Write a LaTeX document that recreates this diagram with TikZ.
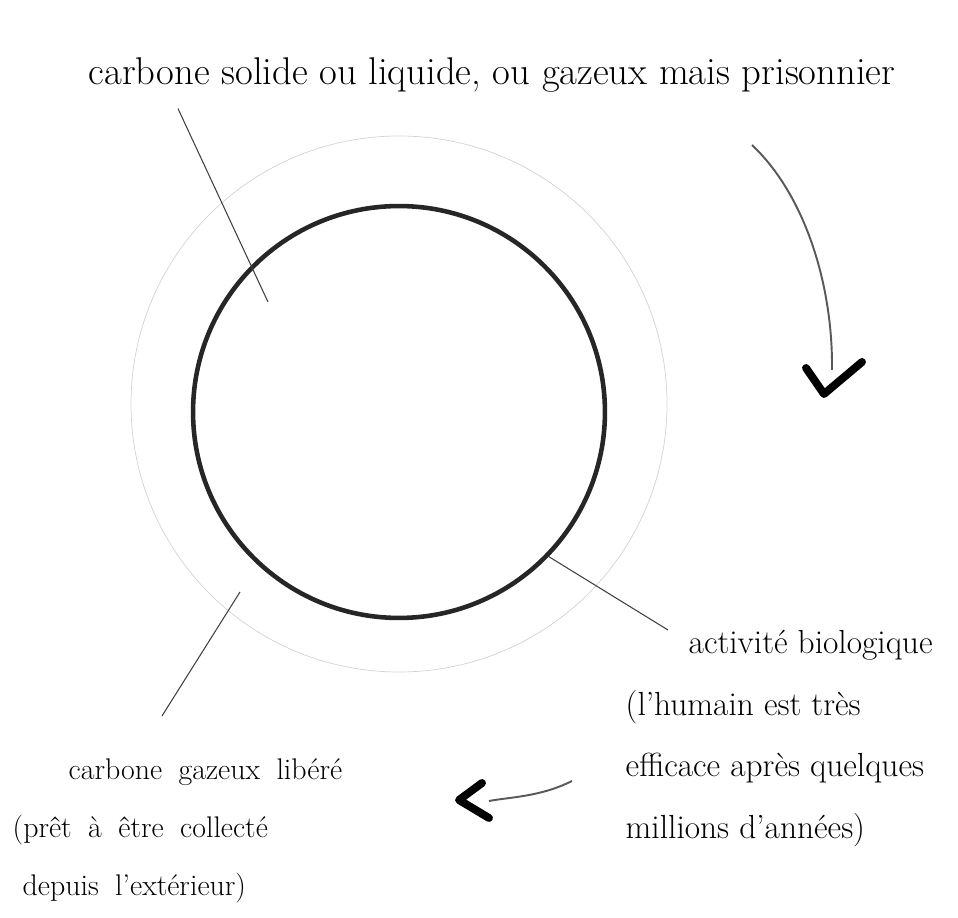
\documentclass[tikz,border=0pt]{standalone}
\usepackage{tikz}
\usetikzlibrary{positioning}

\begin{document}
\begin{tikzpicture}[x=0.02cm, y=-0.02cm, thick,
    reservoir/.style={draw=black!85, circle, line width=2.6pt, minimum size=8.24cm, inner sep=0pt},
    halo/.style={draw=gray!35, line width=0.4pt},
    leader/.style={draw=black!75, line width=0.6pt},
    flux/.style={draw=black!65, line width=1.1pt},
    chevron/.style={draw=black, line width=4.5pt, line cap=round, line join=round},
    legende/.style={align=left, inner sep=0pt}]

    \useasboundingbox (0,0) rectangle (958,918);

    % Nodes
    \node (noyau) [reservoir] at (399,412) {};
    \draw[halo] (399,404) circle[radius=268];

    \node (prisonnier) [legende, anchor=base west, font=\fontsize{22}{26}\selectfont] at (88,85)
        {carbone solide ou liquide, ou gazeux mais prisonnier};
    \node (biologique) [legende, anchor=north west, font=\fontsize{19}{35}\selectfont] at (625,630)
        {\hspace*{1.26cm}activité biologique\\(l'humain est très\\efficace après quelques\\millions d'années)};
    \node (libere) [legende, anchor=north west, font={\fontsize{17}{33}\selectfont\spaceskip=0.55em\relax}] at (12,758)
        {\hspace*{1.12cm}carbone gazeux libéré\\(prêt à être collecté\\\hspace*{0.2cm}depuis l'extérieur)};

    \coordinate (solide) at (268,302);
    \coordinate (gaz) at (240,592);
    \coordinate (depart haut) at (752,145);
    \coordinate (fin haut) at (832,370);
    \coordinate (depart bas) at (572,781);
    \coordinate (fin bas) at (489,801);

    % Links
    \draw[leader] ([xshift=1.8cm, yshift=-0.3cm]prisonnier.south west) -- (solide);
    \draw[leader] (noyau.-44) -- ([xshift=0.86cm]biologique.north west);
    \draw[leader] (gaz) -- ([xshift=3cm, yshift=0.84cm]libere.north west);

    % Flux
    \draw[flux] (depart haut) .. controls (805,195) and (833,285) .. (fin haut);
    \draw[chevron] (806,368) -- (824,394) -- (862,362);
    \draw[flux] (depart bas) .. controls (540,797) and (510,797) .. (fin bas);
    \draw[chevron] (482,783) -- (459,800) -- (489,818);
\end{tikzpicture}
\end{document}
